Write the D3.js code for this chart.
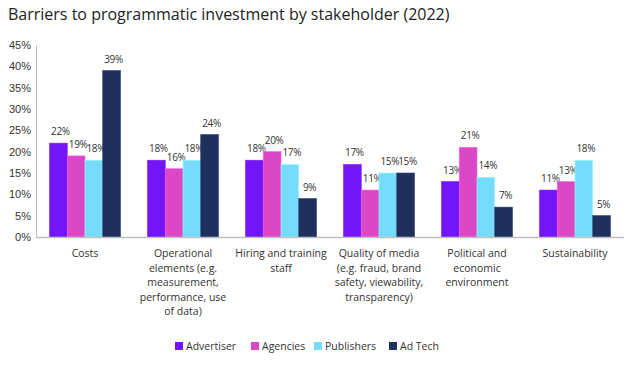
<!DOCTYPE html>
<html><head><meta charset="utf-8">
<script src="https://cdn.jsdelivr.net/npm/d3@7"></script>
<style>body{margin:0;background:#fff}svg{display:block}</style>
</head><body>
<svg id="c" width="636" height="366"></svg>
<script>
const title = "Barriers to programmatic investment by stakeholder (2022)";
const categories = [
  ["Costs"],
  ["Operational","elements (e.g.","measurement,","performance, use","of data)"],
  ["Hiring and training","staff"],
  ["Quality of media","(e.g. fraud, brand","safety, viewability,","transparency)"],
  ["Political and","economic","environment"],
  ["Sustainability"]
];
const seriesNames = ["Advertiser","Agencies","Publishers","Ad Tech"];
const advertiser = [22,18,18,17,13,11];
const agencies   = [19,16,20,11,21,13];
const publishers = [18,18,17,15,14,18];
const adTech     = [39,24,9,15,7,5];
const yTicks = [0,5,10,15,20,25,30,35,40,45];
const colors = ["#7216F8","#DB48C5","#77DCFC","#20305C"];

const series = [advertiser, agencies, publishers, adTech];
const svg = d3.select("#c");
const font = "'Open Sans', sans-serif";

svg.append("text").attr("x",8).attr("y",20).text(title)
  .attr("font-family",font).attr("font-size",16).attr("fill","#222");

const x0 = d3.scaleBand().domain(d3.range(categories.length)).range([36,624]).paddingInner(0.276).paddingOuter(0.138);
const x1 = d3.scaleBand().domain(d3.range(series.length)).range([0,x0.bandwidth()]);
const y = d3.scaleLinear().domain([0,45]).range([237,45]);

// y axis labels
const yAxis = d3.axisLeft(y).tickValues(yTicks).tickFormat(d=>d+"%").tickSize(0).tickPadding(8);
const ya = svg.append("g").attr("transform","translate(36,0)").call(yAxis);
ya.select(".domain").attr("stroke","#bfbfbf").attr("stroke-width",1);
ya.selectAll("text").attr("font-family","'Liberation Sans', sans-serif").attr("font-size",11).attr("fill","#333").attr("x",-5);

// bars
series.forEach((s,si)=>{
  const g = svg.append("g");
  g.selectAll("rect").data(s).join("rect")
    .attr("x",(d,i)=>x0(i)+x1(si))
    .attr("y",d=>y(d))
    .attr("width",x1.bandwidth())
    .attr("height",d=>y(0)-y(d))
    .attr("fill",colors[si])
    .attr("stroke",d3.color(colors[si]).brighter(0.6))
    .attr("stroke-width",0.6);
  g.selectAll("text").data(s).join("text")
    .attr("x",(d,i)=>x0(i)+x1(si)+x1.bandwidth()/2+2)
    .attr("y",d=>y(d)-8)
    .attr("text-anchor","middle")
    .attr("font-family",font).attr("font-size",10).attr("letter-spacing",-0.3).attr("fill","#333")
    .text(d=>d+"%");
});

// x axis line
svg.append("line").attr("x1",36).attr("x2",624).attr("y1",y(0)+0.5).attr("y2",y(0)+0.5)
  .attr("stroke","#bfbfbf").attr("stroke-width",1.5);

// category labels
categories.forEach((lines,i)=>{
  const t = svg.append("text").attr("text-anchor","middle")
    .attr("font-family",font).attr("font-size",10.5).attr("fill","#333");
  lines.forEach((l,j)=>{
    t.append("tspan").attr("x",x0(i)+x0.bandwidth()/2).attr("y",257+j*14.5).text(l);
  });
});

// legend
const legendX = [175,251,314,389];
seriesNames.forEach((n,i)=>{
  svg.append("rect").attr("x",legendX[i]).attr("y",342).attr("width",8).attr("height",8).attr("fill",colors[i]);
  svg.append("text").attr("x",legendX[i]+11).attr("y",350).text(n)
    .attr("font-family",font).attr("font-size",10.5).attr("fill","#333");
});
</script>
</body></html>
